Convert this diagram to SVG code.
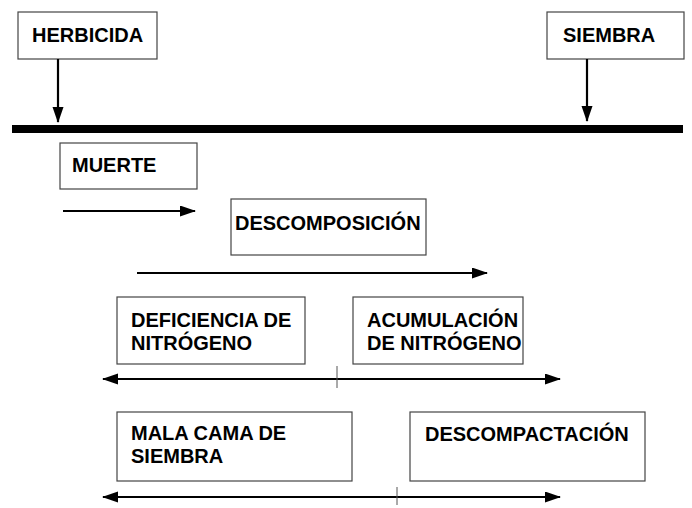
<svg xmlns="http://www.w3.org/2000/svg" width="692" height="508" viewBox="0 0 692 508">
<style>
.box{fill:#fff;stroke:#444;stroke-width:1.2}
.t{font-family:"Liberation Sans",Arial,sans-serif;font-weight:bold;font-size:20px;fill:#000}
.c{stroke:#000;stroke-width:2.2;fill:none}
.tick{stroke:#555;stroke-width:1}
</style>
<defs>
<marker id="ah" markerUnits="userSpaceOnUse" markerWidth="16" markerHeight="12" refX="15" refY="5.5" orient="auto-start-reverse">
<path d="M0,0 L16,5.5 L0,11 z" fill="#000"/>
</marker>
</defs>
<rect x="0" y="0" width="692" height="508" fill="#fff"/>
<g id="timeline">
<rect x="12" y="125" width="671" height="8" fill="#000"/>
</g>
<g id="herbicida">
<rect class="box" x="18" y="12" width="139" height="47"/>
<text class="t" x="32" y="42">HERBICIDA</text>
</g>
<g id="siembra">
<rect class="box" x="547" y="12" width="137" height="47"/>
<text class="t" x="563" y="42">SIEMBRA</text>
</g>
<g id="muerte">
<rect class="box" x="60" y="143" width="137" height="46"/>
<text class="t" x="72" y="172">MUERTE</text>
</g>
<g id="descomposicion">
<rect class="box" x="231" y="199" width="195" height="56"/>
<text class="t" x="235" y="230">DESCOMPOSICIÓN</text>
</g>
<g id="deficiencia">
<rect class="box" x="117" y="297" width="188" height="67"/>
<text class="t" x="131" y="327">DEFICIENCIA DE</text>
<text class="t" x="131" y="350">NITRÓGENO</text>
</g>
<g id="acumulacion">
<rect class="box" x="353" y="297" width="170" height="67"/>
<text class="t" x="367" y="327">ACUMULACIÓN</text>
<text class="t" x="367" y="350">DE NITRÓGENO</text>
</g>
<g id="malacama">
<rect class="box" x="117" y="412" width="235" height="69"/>
<text class="t" x="131" y="440">MALA CAMA DE</text>
<text class="t" x="131" y="463">SIEMBRA</text>
</g>
<g id="descompactacion">
<rect class="box" x="410" y="412" width="235" height="69"/>
<text class="t" x="425" y="441">DESCOMPACTACIÓN</text>
</g>
<g id="connectors">
<line class="c" x1="58" y1="59" x2="58" y2="122" marker-end="url(#ah)"/>
<line class="c" x1="587" y1="59" x2="587" y2="121" marker-end="url(#ah)"/>
<line class="c" x1="63" y1="211" x2="195" y2="211" marker-end="url(#ah)"/>
<line class="c" x1="137" y1="273" x2="487" y2="273" marker-end="url(#ah)"/>
<line class="c" x1="103" y1="379" x2="560" y2="379" marker-start="url(#ah)" marker-end="url(#ah)"/>
<line class="tick" x1="337" y1="366" x2="337" y2="388"/>
<line class="c" x1="103" y1="497" x2="560" y2="497" marker-start="url(#ah)" marker-end="url(#ah)"/>
<line class="tick" x1="397" y1="487" x2="397" y2="505"/>
</g>
</svg>
